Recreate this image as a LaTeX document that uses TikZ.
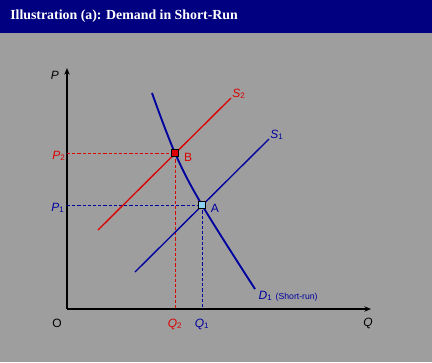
\documentclass[tikz,border=0pt]{standalone}
\usepackage{fontspec}
\setmainfont{Liberation Sans}
\newfontfamily\titlefont{Liberation Serif}
\usetikzlibrary{arrows.meta, positioning, calc}
\definecolor{navybar}{RGB}{0,0,128}
\definecolor{bggray}{RGB}{158,158,158}
\definecolor{curveblue}{RGB}{0,0,160}
\definecolor{curvered}{RGB}{220,0,0}
\definecolor{ptblue}{RGB}{140,210,245}

\begin{document}
\begin{tikzpicture}[x=0.75pt, y=-0.75pt,
    lbl/.style={font=\fontsize{9}{10}\selectfont, inner sep=1pt},
    axis/.style={line width=0.8pt, -{Stealth[length=5pt, width=4pt]}},
    guide/.style={line width=0.75pt, dash pattern=on 2.4pt off 1.5pt},
    supply/.style={line width=1pt},
    mark pt/.style={rectangle, draw=black, line width=0.6pt, minimum size=5.2pt, inner sep=0pt}]
    % background and title bar
    \fill[bggray] (0,0) rectangle (432,362);
    \fill[navybar] (0,0) rectangle (432,33);
    \node[anchor=west, text=white, inner sep=0pt,
        font=\titlefont\bfseries\fontsize{10.4}{12}\selectfont] (title) at (10,16)
        {Illustration (a): Demand in Short-Run};
    % axes
    \coordinate (O) at (67,309);
    \coordinate (ytop) at (67,68);
    \coordinate (xend) at (371,309);
    \draw[axis] (O) -- (ytop);
    \draw[axis] (O) -- (xend);
    \node[lbl] (plabel) at (55,75) {\textit{P}};
    \node[lbl] (qlabel) at (368,323) {\textit{Q}};
    \node[lbl] (olabel) at (57,323) {O};
    % equilibrium points
    \coordinate (B) at (175,153);
    \coordinate (A) at (202,205);
    \coordinate (p2) at (67,153);
    \coordinate (q2) at (175,309);
    \coordinate (p1) at (67,205);
    \coordinate (q1) at (202,309);
    % guide lines
    \draw[guide, curvered] (p2) -- (B) -- (q2);
    \draw[guide, curveblue] (p1) -- (A) -- (q1);
    % supply curves
    \coordinate (s2a) at (98,230);
    \coordinate (s2b) at (231,98);
    \coordinate (s1a) at (135,272);
    \coordinate (s1b) at (269,139);
    \draw[supply, curvered] (s2a) -- (s2b);
    \draw[supply, curveblue] (s1a) -- (s1b);
    % demand curve
    \coordinate (d1a) at (152,93);
    \coordinate (d1b) at (255,289);
    \draw[curveblue, line width=1.4pt] plot[smooth, tension=0.6] coordinates {(d1a) (B) (A) (d1b)};
    % points
    \node[mark pt, fill=curvered] (ptB) at (B) {};
    \node[mark pt, fill=ptblue] (ptA) at (A) {};
    % labels
    \node[lbl, text=curvered] (blabel) at (188,157) {B};
    \node[lbl, text=curveblue] (alabel) at (215,208) {A};
    \node[lbl, text=curvered] (s2label) at (239,94) {\textit{S}\textsubscript{2}};
    \node[lbl, text=curveblue] (s1label) at (277,135) {\textit{S}\textsubscript{1}};
    \node[lbl, text=curvered] (p2label) at (59,156) {\textit{P}\textsubscript{2}};
    \node[lbl, text=curveblue] (p1label) at (58,208) {\textit{P}\textsubscript{1}};
    \node[lbl, text=curvered] (q2label) at (175,324) {\textit{Q}\textsubscript{2}};
    \node[lbl, text=curveblue] (q1label) at (202,324) {\textit{Q}\textsubscript{1}};
    \node[lbl, text=curveblue, anchor=west] (d1label) at (257,296)
        {\textit{D}\textsubscript{1} {\fontsize{6.5}{8}\selectfont (Short-run)}};
\end{tikzpicture}
\end{document}
